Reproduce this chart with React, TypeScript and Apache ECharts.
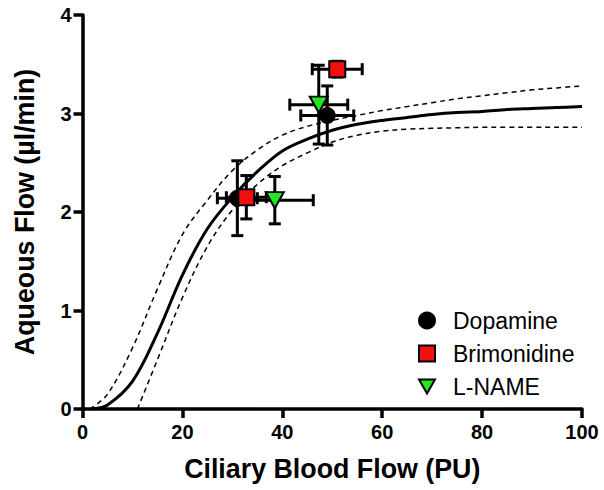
import React, { useEffect, useRef } from "react";
import * as echarts from "echarts";

// Fitted curve (solid) and its confidence band (dashed)
const fitX = [2, 5, 10, 15, 20, 25, 30, 35, 40, 45, 50, 55, 60, 65, 70, 75, 80, 85, 90, 95, 100];
const fitY = [0, 0.04, 0.28, 0.77, 1.36, 1.83, 2.15, 2.41, 2.62, 2.74, 2.83, 2.89, 2.93, 2.96, 2.99, 3.01, 3.02, 3.04, 3.05, 3.06, 3.07];
const upperX = [1.5, 5, 10, 15, 20, 25, 30, 35, 40, 45, 50, 55, 60, 65, 70, 75, 80, 85, 90, 95, 100];
const upperY = [0, 0.15, 0.62, 1.22, 1.77, 2.12, 2.42, 2.63, 2.78, 2.87, 2.93, 2.98, 3.03, 3.07, 3.11, 3.15, 3.18, 3.21, 3.24, 3.26, 3.28];
const lowerX = [11, 15, 20, 25, 30, 35, 40, 45, 50, 55, 60, 65, 70, 75, 80, 85, 90, 95, 100];
const lowerY = [0, 0.5, 1.13, 1.65, 2.02, 2.28, 2.47, 2.6, 2.71, 2.78, 2.82, 2.84, 2.85, 2.855, 2.86, 2.86, 2.86, 2.86, 2.86];

// Data points with error bars
const dopamineX = [49, 31];
const dopamineY = [2.98, 2.14];
const dopamineXErr = [5.3, 4];
const dopamineYErr = [0.3, 0.38];

const brimonidineX = [51, 32.8];
const brimonidineY = [3.45, 2.15];
const brimonidineXErr = [5, 4];
const brimonidineYErr = [0.08, 0.22];

const lnameX = [47.3, 38.5];
const lnameY = [3.09, 2.12];
const lnameXErr = [5.8, 7.7];
const lnameYErr = [0.4, 0.24];

const seriesNames = ["Dopamine", "Brimonidine", "L-NAME"];
const xAxisTitle = "Ciliary Blood Flow (PU)";
const yAxisTitle = "Aqueous Flow (µl/min)";

const FONT = '"Liberation Sans", Arial, Helvetica, sans-serif';
const TRI = "path://M0,0L20,0L10,17.3Z";

const pairs = (xs: number[], ys: number[]) => xs.map((x, i) => [x, ys[i]]);
const errRows = (xs: number[], ys: number[], ex: number[], ey: number[]) =>
  xs.map((x, i) => [x, ys[i], ex[i], ey[i]]);

const errorBarSeries = (rows: number[][]) => ({
  type: "custom",
  coordinateSystem: "cartesian2d",
  silent: true,
  z: 3,
  encode: { x: 0, y: 1 },
  data: rows,
  renderItem: (_params: any, api: any) => {
    const x = api.value(0);
    const y = api.value(1);
    const ex = api.value(2);
    const ey = api.value(3);
    const l = api.coord([x - ex, y]);
    const r = api.coord([x + ex, y]);
    const t = api.coord([x, y + ey]);
    const b = api.coord([x, y - ey]);
    const c = 6;
    const style = { stroke: "#000", lineWidth: 3, fill: null };
    const ln = (x1: number, y1: number, x2: number, y2: number) => ({
      type: "line",
      shape: { x1, y1, x2, y2 },
      style,
    });
    return {
      type: "group",
      children: [
        ln(l[0], l[1], r[0], r[1]),
        ln(l[0], l[1] - c, l[0], l[1] + c),
        ln(r[0], r[1] - c, r[0], r[1] + c),
        ln(t[0], t[1], b[0], b[1]),
        ln(t[0] - c, t[1], t[0] + c, t[1]),
        ln(b[0] - c, b[1], b[0] + c, b[1]),
      ],
    };
  },
});

const curve = (xs: number[], ys: number[], width: number, dashed: boolean) => ({
  type: "line",
  data: pairs(xs, ys),
  showSymbol: false,
  smooth: 0.35,
  silent: true,
  z: 2,
  lineStyle: { color: "#000", width, type: dashed ? [5, 4] : "solid" },
});

export default function App() {
  const ref = useRef<HTMLDivElement>(null);
  useEffect(() => {
    if (!ref.current) return;
    const chart = echarts.init(ref.current, undefined, { renderer: "svg" });
    const axisCommon = {
      axisLine: { show: true, lineStyle: { color: "#000", width: 3.5 } },
      axisTick: { show: true, length: 9, lineStyle: { color: "#000", width: 3.5 } },
      splitLine: { show: false },
      nameLocation: "middle",
      nameTextStyle: { fontSize: 26.8, fontWeight: "bold", color: "#000", fontFamily: FONT },
    };
    chart.setOption({
      animation: false,
      backgroundColor: "#fff",
      grid: { left: 82.5, right: 22, top: 15, bottom: 81, containLabel: false },
      xAxis: {
        type: "value",
        min: 0,
        max: 100,
        interval: 20,
        name: xAxisTitle,
        nameGap: 46,
        ...axisCommon,
        axisLabel: { fontSize: 20, fontWeight: "bold", color: "#000", fontFamily: FONT, margin: 13 },
      },
      yAxis: {
        type: "value",
        min: 0,
        max: 4,
        interval: 1,
        name: yAxisTitle,
        nameGap: 44,
        ...axisCommon,
        axisLabel: { fontSize: 20, fontWeight: "bold", color: "#000", fontFamily: FONT, margin: 11 },
      },
      legend: {
        data: [
          { name: seriesNames[0], icon: "circle" },
          { name: seriesNames[1], icon: "rect" },
          { name: seriesNames[2], icon: TRI },
        ],
        orient: "vertical",
        left: 413,
        top: 304,
        itemWidth: 16,
        itemHeight: 16,
        itemGap: 10,
        textStyle: { fontSize: 23, color: "#000", fontFamily: FONT, padding: [0, 0, 0, 13] },
      },
      series: [
        curve(fitX, fitY, 3, false),
        curve(upperX, upperY, 1.5, true),
        curve(lowerX, lowerY, 1.5, true),
        errorBarSeries(errRows(dopamineX, dopamineY, dopamineXErr, dopamineYErr)),
        errorBarSeries(errRows(brimonidineX, brimonidineY, brimonidineXErr, brimonidineYErr)),
        errorBarSeries(errRows(lnameX, lnameY, lnameXErr, lnameYErr)),
        {
          name: seriesNames[0],
          type: "scatter",
          z: 4,
          symbol: "circle",
          symbolSize: 16,
          data: pairs(dopamineX, dopamineY),
          itemStyle: { color: "#000", borderColor: "#000", borderWidth: 1, opacity: 1 },
        },
        {
          name: seriesNames[1],
          type: "scatter",
          z: 4,
          symbol: "rect",
          symbolSize: 16,
          data: pairs(brimonidineX, brimonidineY),
          itemStyle: { color: "#f01010", borderColor: "#000", borderWidth: 2, opacity: 1 },
        },
        {
          name: seriesNames[2],
          type: "scatter",
          z: 4,
          symbol: TRI,
          symbolSize: [18, 16],
          data: pairs(lnameX, lnameY),
          itemStyle: { color: "#22e822", borderColor: "#000", borderWidth: 2, opacity: 1 },
        },
      ],
    });
    return () => chart.dispose();
  }, []);
  return (
    <div
      ref={ref}
      style={{ position: "absolute", left: 0, top: 0, width: 604, height: 490, background: "#fff" }}
    />
  );
}
